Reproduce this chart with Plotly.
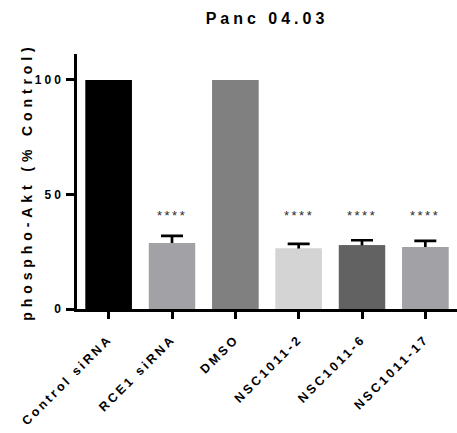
import numpy as np
import plotly.graph_objects as go

categories = ["Control siRNA", "RCE1 siRNA", "DMSO", "NSC1011-2", "NSC1011-6", "NSC1011-17"]
values = [100, 28.8, 100, 26.4, 27.8, 27.1]
errors = [np.nan, 3.1, np.nan, 2.0, 2.2, 2.6]
stars = ["", "****", "", "****", "****", "****"]
colors = ["#000000", "#a1a1a6", "#808080", "#d4d4d4", "#626262", "#a1a1a6"]
y_ticks = [0, 50, 100]

FONT = "Liberation Sans, Arial, sans-serif"
STAR_Y = 41

fig = go.Figure()
# bars with symmetric error bars (lower half hidden by the overlaid bars)
fig.add_trace(go.Bar(
    x=categories, y=values,
    marker=dict(color=colors, line=dict(width=0)),
    width=0.73,
    error_y=dict(type="data", symmetric=True, array=np.array(errors, dtype=float),
                 color="black", thickness=2.7, width=11, visible=True),
    showlegend=False, hoverinfo="skip",
))
fig.add_trace(go.Bar(
    x=categories, y=values,
    marker=dict(color=colors, line=dict(width=0)),
    width=0.73, showlegend=False,
))

for c, s in zip(categories, stars):
    if s:
        fig.add_annotation(x=c, y=STAR_Y, text=s, showarrow=False,
                           font=dict(family=FONT, size=13, color="#2a2a2a"),
                           xanchor="center", yanchor="middle")

fig.update_layout(
    width=457, height=433,
    margin=dict(l=77, r=0, t=54, b=124),
    plot_bgcolor="white", paper_bgcolor="white",
    barmode="overlay",
    title=dict(text="Panc 04.03", x=0.5, xref="paper", xanchor="center",
               y=1 - 18 / 433, yref="container", yanchor="middle",
               font=dict(family=FONT, size=16, color="black", weight="bold")),
    font=dict(family=FONT, color="black"),
)
fig.update_yaxes(
    range=[0, 111.3], tickvals=y_ticks, ticktext=[str(v) for v in y_ticks],
    showline=True, linewidth=2.5, linecolor="black",
    ticks="outside", ticklen=8, tickwidth=2.5, tickcolor="black",
    showgrid=False, zeroline=False,
    tickfont=dict(family=FONT, size=12, color="black", weight="bold"),
    title=dict(text="phospho-Akt (% Control)",
               font=dict(family=FONT, size=14, color="black", weight="bold"),
               standoff=8),
)
fig.update_xaxes(
    showline=True, linewidth=2.5, linecolor="black",
    ticks="outside", ticklen=7, tickwidth=2.5, tickcolor="black",
    tickangle=-45, showgrid=False, ticklabelstandoff=8,
    tickfont=dict(family=FONT, size=12.5, color="black", weight="bold"),
)

post = """
var st = document.createElement('style');
st.textContent = '.gtitle{letter-spacing:4px;} .ytitle{letter-spacing:4.9px;} '
 + '.ytick text{letter-spacing:3px;} .xtick text{letter-spacing:2.8px;} '
 + '.annotation-text{letter-spacing:2.5px;}';
document.head.appendChild(st);
"""
fig.write_html("out.html", post_script=post)
